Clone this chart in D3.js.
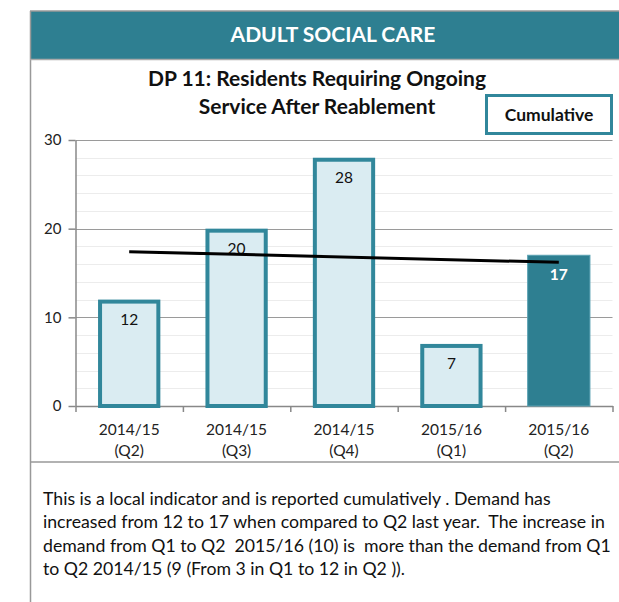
<!DOCTYPE html>
<html>
<head>
<meta charset="utf-8">
<script src="https://cdn.jsdelivr.net/npm/d3@7"></script>
<style>
  body { margin: 0; background: #fff; }
  svg { display: block; font-family: Lato, "Open Sans", sans-serif; }
  svg text { white-space: pre; }
</style>
</head>
<body>
<div class="chart"></div>
<script>
// --- Data ---
const years = ["2014/15", "2014/15", "2014/15", "2015/16", "2015/16"];
const quarters = ["(Q2)", "(Q3)", "(Q4)", "(Q1)", "(Q2)"];
const values = [12, 20, 28, 7, 17];
const trendValues = [17.4, 16.2]; // trend line at first and last bar
const yTicks = [0, 10, 20, 30];
const minorTicks = [2, 4, 6, 8, 12, 14, 16, 18, 22, 24, 26, 28];
const headerText = "ADULT SOCIAL CARE";
const titleLines = ["DP 11: Residents Requiring Ongoing", "Service After Reablement"];
const badgeText = "Cumulative";
const footerLines = [
  "This is a local indicator and is reported cumulatively . Demand has",
  "increased from 12 to 17 when compared to Q2 last year.  The increase in",
  "demand from Q1 to Q2  2015/16 (10) is  more than the demand from Q1",
  "to Q2 2014/15 (9 (From 3 in Q1 to 12 in Q2 ))."
];

const W = 619, H = 602;
const teal = "#2e7f91";
const barStroke = "#31879b";
const lightFill = "#daecf2";

const svg = d3.select(".chart").append("svg")
  .attr("width", W)
  .attr("height", H);

// --- Frame ---
svg.append("rect")
  .attr("x", 30).attr("y", 11)
  .attr("width", W - 30).attr("height", 48)
  .attr("fill", teal);

svg.append("line") // top border
  .attr("x1", 30).attr("x2", W).attr("y1", 11).attr("y2", 11)
  .attr("stroke", "#999").attr("stroke-width", 1.5);
svg.append("line") // left border
  .attr("x1", 30.5).attr("x2", 30.5).attr("y1", 11).attr("y2", H)
  .attr("stroke", "#999").attr("stroke-width", 1.5);
svg.append("line") // under header
  .attr("x1", 30).attr("x2", W).attr("y1", 59.5).attr("y2", 59.5)
  .attr("stroke", "#aaa").attr("stroke-width", 1.5);
svg.append("line") // under chart
  .attr("x1", 30).attr("x2", W).attr("y1", 462).attr("y2", 462)
  .attr("stroke", "#999").attr("stroke-width", 1.5);

svg.append("text")
  .text(headerText)
  .attr("x", 333).attr("y", 42)
  .attr("text-anchor", "middle")
  .attr("fill", "#fff")
  .style("font-size", "21px")
  .style("font-weight", "bold");

// --- Title ---
svg.selectAll(".title")
  .data(titleLines)
  .join("text")
  .attr("class", "title")
  .text(d => d)
  .attr("x", 317)
  .attr("y", (d, i) => 86 + i * 28)
  .attr("text-anchor", "middle")
  .style("font-size", "21px")
  .style("font-weight", "bold")
  .attr("fill", "#111");

// --- Cumulative badge ---
svg.append("rect")
  .attr("x", 486.5).attr("y", 95.5)
  .attr("width", 125).attr("height", 38)
  .attr("fill", "#fff")
  .attr("stroke", barStroke)
  .attr("stroke-width", 3);
svg.append("text")
  .text(badgeText)
  .attr("x", 549).attr("y", 121)
  .attr("text-anchor", "middle")
  .style("font-size", "17.5px")
  .style("font-weight", "bold")
  .attr("fill", "#111");

// --- Scales ---
const plotL = 75.5, plotR = 612.5, plotT = 140, plotB = 406;
const x = d3.scaleBand()
  .domain(d3.range(values.length))
  .range([plotL, plotR])
  .padding(0);
const xEdge = d3.scaleLinear().domain([0, values.length]).range([plotL, plotR]);
const y = d3.scaleLinear().domain([0, 30]).range([plotB, plotT]);
const barW = x.bandwidth() * 0.58;

// --- Gridlines ---
svg.append("g")
  .selectAll("line")
  .data(minorTicks)
  .join("line")
  .attr("x1", plotL).attr("x2", plotR)
  .attr("y1", d => Math.round(y(d)) + 0.5)
  .attr("y2", d => Math.round(y(d)) + 0.5)
  .attr("stroke", "#ececec");

svg.append("g")
  .selectAll("line")
  .data(yTicks.filter(d => d > 0))
  .join("line")
  .attr("x1", plotL).attr("x2", plotR)
  .attr("y1", d => Math.round(y(d)) + 0.5)
  .attr("y2", d => Math.round(y(d)) + 0.5)
  .attr("stroke", "#9a9a9a")
  .attr("stroke-width", 1.2);

// --- Axes ---
const yAxis = svg.append("g")
  .attr("transform", `translate(${plotL},0)`)
  .call(d3.axisLeft(y).tickValues(yTicks).tickSize(7).tickPadding(7).tickSizeOuter(0));
yAxis.select(".domain").attr("stroke", "#888").attr("stroke-width", 1.5);
yAxis.selectAll(".tick line").attr("stroke", "#888").attr("stroke-width", 1.5);
yAxis.selectAll("text")
  .style("font-family", "Lato, 'Open Sans', sans-serif")
  .style("font-size", "15px")
  .attr("fill", "#222");

const xAxis = svg.append("g")
  .attr("transform", `translate(0,${plotB})`)
  .call(d3.axisBottom(xEdge).tickValues(d3.range(values.length + 1)).tickFormat("").tickSize(6).tickSizeOuter(0));
xAxis.select(".domain").attr("stroke", "#888").attr("stroke-width", 1.5);
xAxis.selectAll(".tick line").attr("stroke", "#888").attr("stroke-width", 1.5);

// category labels
const catLabel = svg.append("g")
  .selectAll("text")
  .data(values)
  .join("text")
  .attr("text-anchor", "middle")
  .style("font-size", "15.5px")
  .attr("fill", "#222");
catLabel.append("tspan")
  .attr("x", (d, i) => x(i) + x.bandwidth() / 2)
  .attr("y", 435)
  .text((d, i) => years[i]);
catLabel.append("tspan")
  .attr("x", (d, i) => x(i) + x.bandwidth() / 2)
  .attr("y", 456)
  .text((d, i) => quarters[i]);

// --- Bars ---
const last = values.length - 1;
const bars = svg.append("g")
  .selectAll("g")
  .data(values)
  .join("g")
  .attr("transform", (d, i) => `translate(${x(i) + x.bandwidth() / 2},0)`);

bars.append("rect")
  .attr("x", (d, i) => i === last ? -barW / 2 : -barW / 2 + 2)
  .attr("y", (d, i) => i === last ? y(d) : y(d) + 2)
  .attr("width", (d, i) => i === last ? barW : barW - 4)
  .attr("height", (d, i) => i === last ? plotB - y(d) : plotB - y(d) - 2)
  .attr("fill", (d, i) => i === last ? teal : lightFill)
  .attr("stroke", (d, i) => i === last ? "#5aa2b3" : barStroke)
  .attr("stroke-width", (d, i) => i === last ? 1 : 4);

// --- Trend line ---
const trendPts = [
  [x(0) + x.bandwidth() / 2, trendValues[0]],
  [x(last) + x.bandwidth() / 2, trendValues[1]]
];
svg.append("path")
  .datum(trendPts)
  .attr("d", d3.line().x(d => d[0]).y(d => y(d[1])))
  .attr("fill", "none")
  .attr("stroke", "#000")
  .attr("stroke-width", 3);

// --- Value labels ---
bars.append("text")
  .text(d => d)
  .attr("x", 0)
  .attr("y", d => y(d) + 25)
  .attr("text-anchor", "middle")
  .style("font-size", "15.5px")
  .style("font-weight", (d, i) => i === last ? "bold" : "normal")
  .attr("fill", (d, i) => i === last ? "#fff" : "#111");

// --- Footer ---
// size the font so the widest line fits the box (about 570px)
const footer = svg.append("g")
  .selectAll("text")
  .data(footerLines)
  .join("text")
  .text(d => d)
  .attr("x", 43)
  .attr("y", (d, i) => 505 + i * 23.4)
  .style("font-size", "18px")
  .attr("fill", "#111");
const widest = d3.max(footer.nodes(), n => n.getComputedTextLength());
footer.style("font-size", `${Math.min(18, 18 * 568 / widest)}px`);
</script>
</body>
</html>
